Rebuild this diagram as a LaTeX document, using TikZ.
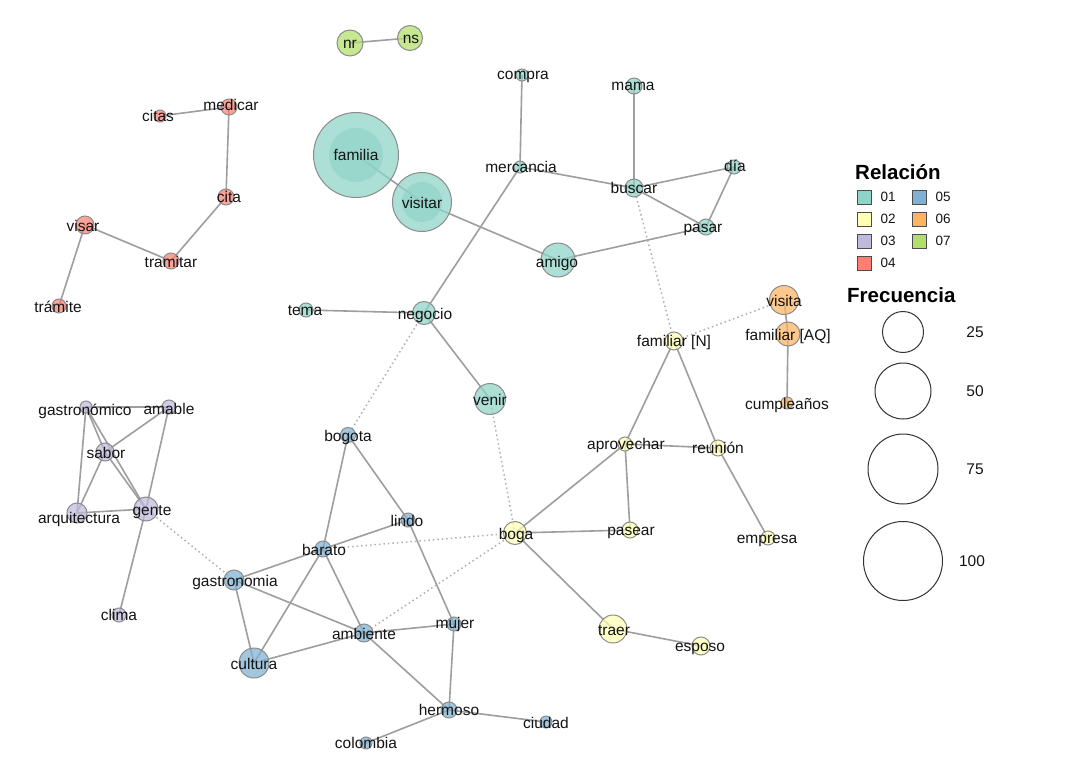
\documentclass[tikz,border=0pt]{standalone}
\usepackage{fontspec}
\setmainfont{Liberation Sans}
\usetikzlibrary{backgrounds}
\definecolor{c01}{HTML}{8DD3C7}
\definecolor{c02}{HTML}{FFFFB3}
\definecolor{c03}{HTML}{BEBADA}
\definecolor{c04}{HTML}{FB8072}
\definecolor{c05}{HTML}{80B1D3}
\definecolor{c06}{HTML}{FDB462}
\definecolor{c07}{HTML}{B3DE69}
\definecolor{edgegray}{HTML}{9E9E9E}
\definecolor{dotgray}{HTML}{B0B0B0}
\definecolor{ringgray}{HTML}{8C8C8C}
\definecolor{txt}{HTML}{141414}
\tikzset{
  vtx/.style={circle, draw=ringgray, line width=1pt, fill opacity=0.72, inner sep=0pt},
  core/.style={circle, fill opacity=0.6, inner sep=0pt, draw=none},
  lbl/.style={font=\fontsize{15.5}{16}\selectfont, text=txt, inner sep=0pt, anchor=mid, yshift=-2.5pt},
  link/.style={draw=edgegray, line width=1.6pt},
  weak/.style={draw=dotgray, line width=1.5pt, dash pattern=on 1.5pt off 3pt},
  keybox/.style={draw=black!70, line width=0.8pt, minimum width=14pt, minimum height=14pt, inner sep=0pt},
  keytxt/.style={font=\fontsize{13.5}{14}\selectfont, inner sep=0pt, text=txt, anchor=west},
  ttl/.style={font=\bfseries\fontsize{20.5}{22}\selectfont, inner sep=0pt, text=black, anchor=west},
  sizering/.style={circle, draw=black!80, line width=1pt, inner sep=0pt},
  sizetxt/.style={font=\fontsize{15.5}{16}\selectfont, inner sep=0pt, text=txt},
}
\begin{document}
\begin{tikzpicture}[x=1pt, y=-1pt]
\useasboundingbox (0,0) rectangle (1082,784);
% vertices
\foreach \n/\x/\y/\r/\c in {
familia/356/155/42.5/c01, visitar/422/202/29.5/c01, compra/522/75/6/c01, mama/634/86/8/c01,
mercancia/520/167/6/c01, buscar/634/188/9/c01, dia/734/167/7/c01, pasar/706/227/8/c01,
amigo/558/260/17/c01, tema/306/310/7/c01, negocio/424/313/11.5/c01, venir/490/399/15.5/c01,
famN/674/341/9/c02, aprovechar/625/444/7/c02, reunion/718/448/8/c02, boga/515/533/11.5/c02,
pasear/630/530/8/c02, empresa/768/538/7/c02, traer/613/629/14/c02, esposo/701/646/9/c02,
gastronomico/86/407/6/c03, amable/169/407/7/c03, sabor/105/452/9/c03, arquitectura/77/513/10/c03,
gente/146/509/12/c03, clima/119/615/7/c03,
citas/160/116/6/c04, medicar/229/107/8/c04, cita/226/197/8/c04, visar/85/225/9/c04,
tramitar/171/261/8/c04, tramite/59/306/7/c04,
bogota/348/435/7.5/c05, lindo/408/520/7/c05, barato/323/549/8/c05, gastronomia/234/580/10/c05,
ambiente/364/633/9/c05, mujer/454/624/7/c05, cultura/254/663/15/c05, hermoso/449/710/8/c05,
colombia/366/743/6/c05, ciudad/546/722/6/c05,
visita/784/300/14.5/c06, famAQ/788/334/12/c06, cumple/787/403/6/c06,
nr/350/43/13/c07, ns/410/38/12.5/c07}
  \node[vtx, fill=\c, minimum size={2*\r*1pt}] (\n) at (\x,\y) {};
\node[core, fill=c01, minimum size=54pt] (familia-core) at (familia.center) {};
\node[core, fill=c01, minimum size=40pt] (visitar-core) at (visitar.center) {};
% edges
\begin{scope}[on background layer]
\fill[white] (0,0) rectangle (1082,784);
\foreach \a/\b in {
familia/visitar, visitar/amigo, amigo/pasar, compra/mercancia, mercancia/buscar, mama/buscar,
buscar/dia, buscar/pasar, dia/pasar, mercancia/negocio, tema/negocio, negocio/venir,
famN/aprovechar, famN/reunion, aprovechar/reunion, aprovechar/boga, aprovechar/pasear,
boga/pasear, boga/traer, traer/esposo, reunion/empresa,
visita/famAQ, famAQ/cumple,
gastronomico/amable, gastronomico/sabor, gastronomico/arquitectura, gastronomico/gente,
sabor/amable, sabor/arquitectura, sabor/gente, amable/gente, arquitectura/gente, gente/clima,
citas/medicar, medicar/cita, cita/tramitar, tramitar/visar, visar/tramite,
nr/ns,
bogota/barato, bogota/lindo, lindo/mujer, barato/lindo, barato/gastronomia, barato/cultura,
barato/ambiente, gastronomia/ambiente, gastronomia/cultura, cultura/ambiente, ambiente/mujer,
ambiente/hermoso, mujer/hermoso, hermoso/colombia, hermoso/ciudad}
  \draw[link] (\a.center) -- (\b.center);
\foreach \a/\b in {buscar/famN, famN/visita, negocio/bogota, venir/boga, boga/barato,
boga/ambiente, gente/gastronomia}
  \draw[weak] (\a.center) -- (\b.center);
\end{scope}
% labels
\foreach \n/\x/\y/\t in {
familia/356/155/familia, visitar/422/203/visitar, compra/523/74/compra, mama/633/85/mama,
mercancia/521/167/mercancia, buscar/634/188/buscar, dia/735/166/día, pasar/703/227/pasar,
amigo/557/262/amigo, tema/305/310/tema, negocio/425/314/negocio, venir/490/400/venir,
famN/674/341/familiar [N], aprovechar/626/444/aprovechar, reunion/718/448/reunión,
boga/516/534/boga, pasear/631/530/pasear, empresa/767/538/empresa, traer/614/630/traer,
esposo/700/646/esposo,
gastronomico/85/410/gastronómico, amable/169/409/amable, sabor/106/453/sabor,
arquitectura/79/518/arquitectura, gente/152/510/gente, clima/119/615/clima,
citas/158/116/citas, medicar/231/105/medicar, cita/229/197/cita, visar/83/226/visar,
tramitar/171/262/tramitar, tramite/58/307/trámite,
bogota/348/436/bogota, lindo/407/521/lindo, barato/324/550/barato,
gastronomia/235/581/gastronomia, ambiente/364/634/ambiente, mujer/455/623/mujer,
cultura/254/664/cultura, hermoso/449/710/hermoso, colombia/366/743/colombia,
ciudad/546/723/ciudad,
visita/784/301/visita, famAQ/788/335/familiar [AQ], cumple/787/404/cumpleaños,
nr/350/43/nr, ns/411/38/ns}
  \node[lbl] (\n-lbl) at (\x,\y) {\t};
% legend
\node[ttl] (reltitle) at (855,172) {Relación};
\foreach \k/\c/\x/\y in {01/c01/864/197, 02/c02/864/219, 03/c03/864/241, 04/c04/864/263,
05/c05/919/197, 06/c06/919/219, 07/c07/919/241}{
  \node[keybox, fill=\c] (key\k) at (\x,\y) {};
  \node[keytxt] (key\k-t) at ([xshift=9pt]key\k.east) {\k};
}
\node[ttl] (freqtitle) at (847,295) {Frecuencia};
\foreach \v/\y/\d/\tx in {25/332/41/975, 50/391/56/975, 75/469/70/975, 100/561/79/972}{
  \node[sizering, minimum size=\d pt] (ring\v) at (903,\y) {};
  \node[sizetxt] (ring\v-t) at (\tx,\y) {\v};
}
\end{tikzpicture}
\end{document}
